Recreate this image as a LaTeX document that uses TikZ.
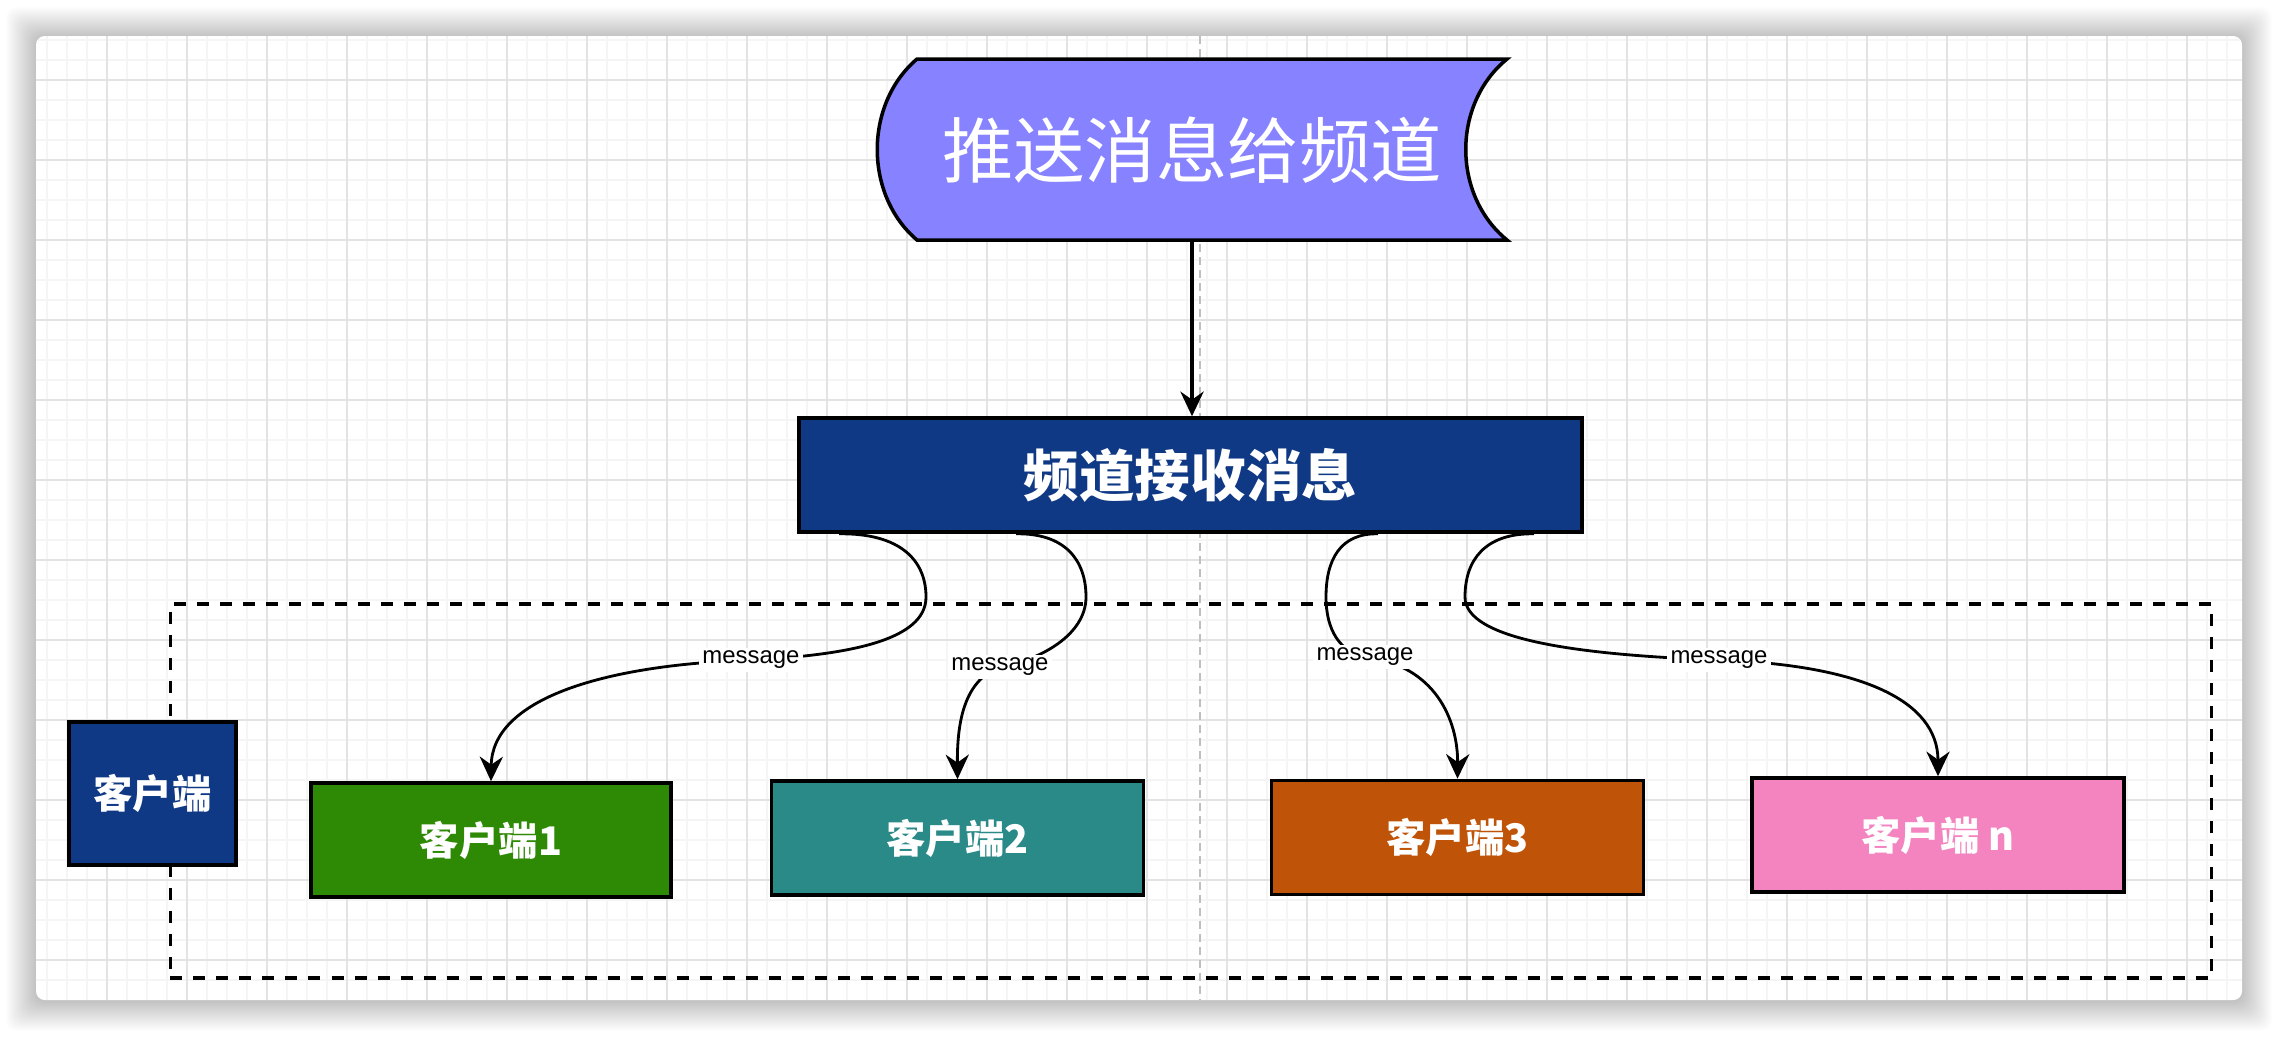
\documentclass[tikz,border=0pt]{standalone}
\usepackage{fontspec}
\setmainfont{Liberation Sans}
\newfontfamily\cjk{Noto Sans CJK SC}
\usetikzlibrary{arrows.meta, calc}

\definecolor{pushblue}{HTML}{8782FF}
\definecolor{chanblue}{HTML}{0F3985}
\definecolor{cligreen}{HTML}{2E8A04}
\definecolor{cliteal}{HTML}{2A8A87}
\definecolor{cliorange}{HTML}{BF5307}
\definecolor{clipink}{HTML}{F384C0}

\begin{document}
\begin{tikzpicture}[x=0.01cm, y=-0.01cm, >={Stealth[length=7pt, width=6.6pt, inset=2.3pt]},
    box/.style={draw=black, line width=1pt, text=white, inner sep=0pt,
      font=\cjk\bfseries\fontsize{11.2}{13}\selectfont},
    client/.style={box, minimum width=3.72cm, minimum height=1.14cm},
    flow/.style={->, line width=0.8pt},
    msg/.style={fill=white, inner sep=1pt, font=\fontsize{6.8}{8}\selectfont},
    gridminor/.style={black!4, line width=0.6pt},
    gridmajor/.style={black!11, line width=0.5pt}]
  \useasboundingbox (0,0) rectangle (2278,1038);
  \fill[white] (0,0) rectangle (2278,1038);

  % window shadow and canvas
  \foreach \i in {1,...,30} {
    \fill[black, opacity=0.0065, rounded corners=3pt] (36-\i,37-\i) rectangle (2242+\i,1001+\i);
  }
  \fill[white, rounded corners=2.5pt] (36,36) rectangle (2242,1000);
  \begin{scope}
    \clip[rounded corners=2.5pt] (36,36) rectangle (2242,1000);
    \foreach \gx in {47,67,...,2240} \draw[gridminor] (\gx,36) -- (\gx,1000);
    \foreach \gy in {40,60,...,999} \draw[gridminor] (36,\gy) -- (2242,\gy);
    \foreach \gx in {107,187,...,2240} \draw[gridmajor] (\gx,36) -- (\gx,1000);
    \foreach \gy in {80,160,...,999} \draw[gridmajor] (36,\gy) -- (2242,\gy);
    % page break
    \draw[gray!50, line width=0.4pt, dash pattern=on 0.08cm off 0.05cm] (1200,36) -- (1200,1000);
  \end{scope}

  % client group
  \node[draw, line width=1.05pt, dash pattern=on 0.12cm off 0.11cm,
    minimum width=20.4cm, minimum height=3.74cm] (group) at (1191,791) {};

  % push shape
  \draw[line width=1pt, fill=pushblue] (917,59) -- (1507,59)
    .. controls (1452,104) and (1452,195) .. (1507,240) -- (917,240)
    .. controls (864,195) and (864,104) .. cycle;
  \node[text=white, inner sep=0pt, minimum width=6.43cm, minimum height=1.81cm,
    font=\cjk\fontsize{20.3}{24}\selectfont] (push) at (1192,150) {推送消息给频道};

  \node[box, fill=chanblue, minimum width=7.83cm, minimum height=1.14cm,
    font=\cjk\bfseries\fontsize{15.8}{19}\selectfont] (chan) at (1190.5,475) {频道接收消息};

  \node[box, fill=chanblue, minimum width=1.67cm, minimum height=1.43cm] (cli) at (152.5,793.5) {客户端};
  \node[client, fill=cligreen, minimum width=3.6cm] (cli1) at (491,840) {客户端1};
  \node[client, fill=cliteal] (cli2) at (957.5,838) {客户端2};
  \node[client, fill=cliorange] (cli3) at (1457.5,837.5) {客户端3};
  \node[client, fill=clipink] (clin) at (1938,835) {客户端 n};

  \draw[->, line width=1pt] (push.south) -- (push.south |- chan.north);

  \draw[flow] ($(chan.south west)+(42,0)$) .. controls (900,533) and (926,560) .. (926,597)
    .. controls (926,640) and (850,655) .. (751,660) node[msg] {message}
    .. controls (600,665) and (492,700) .. (cli1.north);
  \draw[flow] ($(chan.south west)+(219,0)$) .. controls (1065,533) and (1086,560) .. (1086,597)
    .. controls (1086,635) and (1040,660) .. (1000,667) node[msg] {message}
    .. controls (965,680) and (957,720) .. (cli2.north);
  \draw[flow] ($(chan.south west)+(581,0)$) .. controls (1340,533) and (1326,560) .. (1326,597)
    .. controls (1326,630) and (1340,652) .. (1365,657) node[msg] {message}
    .. controls (1435,665) and (1458,720) .. (cli3.north);
  \draw[flow] ($(chan.south west)+(737,0)$) .. controls (1485,533) and (1465,560) .. (1465,597)
    .. controls (1465,640) and (1580,655) .. (1719,660) node[msg] {message}
    .. controls (1860,665) and (1938,700) .. (clin.north);
\end{tikzpicture}
\end{document}
